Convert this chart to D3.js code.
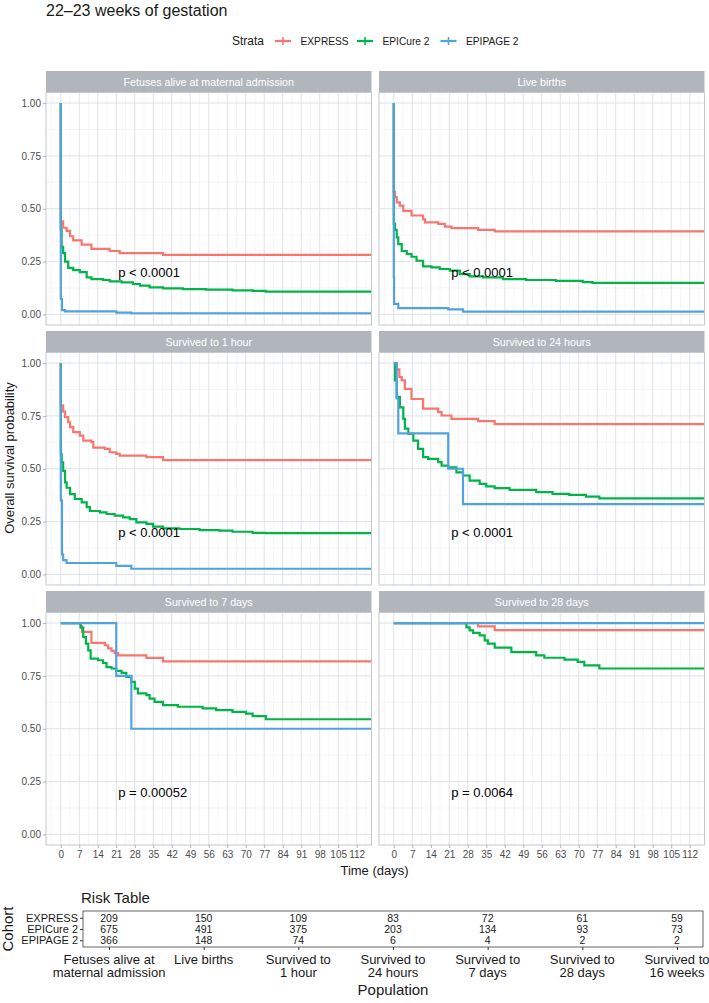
<!DOCTYPE html>
<html>
<head>
<meta charset="utf-8">
<script src="https://cdn.jsdelivr.net/npm/d3@7"></script>
<style>
  body { margin: 0; background: #fff; }
  text { font-family: "Liberation Sans", Arial, Helvetica, sans-serif; }
</style>
</head>
<body>
<div id="chart"></div>
<script>
// Strata (cohorts) and their colours.
var strata = ["EXPRESS", "EPICure 2", "EPIPAGE 2"];
var strataColors = ["#f8766d", "#00b44a", "#52a2de"];

// Facet titles and log-rank p values.
var panelTitles = ["Fetuses alive at maternal admission", "Live births", "Survived to 1 hour",
                   "Survived to 24 hours", "Survived to 7 days", "Survived to 28 days"];
var pValues = ["p < 0.0001", "p < 0.0001", "p < 0.0001", "p < 0.0001", "p = 0.00052", "p = 0.0064"];

// Kaplan-Meier steps: [day, survival].
var admitExpress = [[0,1],[0,0.44],[0.9,0.41],[2.2,0.395],[3.5,0.37],[4.7,0.35],[7.9,0.33],[11.6,0.31],[18.5,0.30],[22.3,0.29],[38.7,0.282]];
var admitEpicure = [[0,1],[0,0.40],[0.3,0.32],[0.9,0.29],[1.6,0.25],[2.8,0.22],[4.7,0.21],[7.2,0.20],[9.8,0.175],[11.6,0.167],[16,0.163],[18.5,0.156],[23,0.152],[27.3,0.144],[29.9,0.136],[33.6,0.128],[38.7,0.123],[46.2,0.12],[55,0.117],[65,0.114],[72.6,0.111],[77.6,0.108]];
var admitEpipage = [[0,1],[0,0.073],[0.45,0.02],[1.6,0.014],[21,0.0082],[26.7,0.0055]];

var liveExpress = [[0,1],[0,0.58],[0.45,0.555],[1.1,0.53],[2.3,0.515],[3.6,0.49],[6.7,0.468],[11.1,0.45],[11.8,0.436],[16.8,0.428],[19.3,0.415],[21.8,0.408],[31.9,0.40],[38.2,0.393]];
var liveEpicure = [[0,1],[0,0.43],[0.45,0.40],[1.1,0.365],[1.7,0.333],[3,0.30],[4.9,0.286],[6.7,0.273],[8.6,0.254],[11.1,0.227],[14.3,0.223],[17.4,0.215],[21.2,0.207],[25,0.191],[28.7,0.18],[33.8,0.175],[41.3,0.167],[50.1,0.163],[61.4,0.159],[71.5,0.153],[75.2,0.149]];
var liveEpipage = [[0,1],[0,0.175],[0.1,0.05],[1.7,0.03],[20.6,0.024],[26.2,0.0135]];

var hourExpress = [[0,1],[0,0.80],[0.9,0.77],[1.6,0.744],[2.8,0.72],[3.5,0.697],[4.7,0.673],[7.2,0.657],[8.5,0.633],[11.6,0.626],[12.3,0.60],[16.7,0.594],[18.5,0.578],[21,0.57],[22.3,0.562],[32.4,0.555],[38.7,0.541]];
var hourEpicure = [[0,1],[0,0.57],[0.33,0.53],[0.9,0.49],[1.6,0.436],[2.2,0.41],[3.5,0.38],[5.3,0.357],[7.9,0.341],[9.8,0.318],[11,0.30],[14.8,0.294],[17.3,0.286],[20.4,0.278],[23.6,0.27],[26.1,0.262],[28.6,0.246],[32.4,0.239],[34.9,0.226],[38.7,0.218],[44.9,0.215],[52.5,0.21],[60,0.207],[65,0.202],[72.6,0.197],[77.6,0.195]];
var hourEpipage = [[0,1],[0,0.35],[0.45,0.095],[0.9,0.068],[2.2,0.054],[21,0.0405],[26.7,0.027]];

var dayExpress = [[0,1],[1.1,0.97],[2.1,0.934],[3,0.918],[4.2,0.878],[6.7,0.83],[11.1,0.784],[16.8,0.768],[18.1,0.752],[21.8,0.736],[31.9,0.725],[38.2,0.711]];
var dayEpicure = [[0,1],[0.45,0.918],[1.1,0.84],[2.3,0.79],[3.6,0.736],[4.2,0.69],[5.5,0.665],[7.4,0.633],[9.2,0.594],[11.1,0.555],[13,0.547],[16.8,0.531],[18.1,0.515],[20.6,0.507],[23.7,0.483],[26.2,0.468],[28.7,0.444],[32.5,0.428],[35,0.417],[38.2,0.408],[43.8,0.40],[53.9,0.389],[60.1,0.381],[66.4,0.376],[72.7,0.368],[77.8,0.36]];
var dayEpipage = [[0,1],[1.1,0.833],[1.7,0.667],[20.6,0.5],[26.2,0.333]];

var weekExpress = [[0,1],[7.5,0.986],[8,0.958],[11.6,0.906],[16.7,0.895],[17.9,0.88],[19.2,0.868],[20.4,0.858],[21.7,0.847],[32.4,0.835],[38.7,0.819]];
var weekEpicure = [[0,1],[7.5,0.978],[8.5,0.934],[9.5,0.903],[10.4,0.871],[11.3,0.832],[14.1,0.824],[16,0.811],[17.3,0.792],[19.2,0.785],[21,0.774],[23,0.764],[24.8,0.745],[26.7,0.722],[28,0.69],[29.2,0.667],[32.4,0.659],[33.6,0.643],[35.5,0.627],[38.7,0.612],[44.3,0.604],[53.7,0.596],[58.8,0.588],[65,0.58],[70.1,0.572],[72.6,0.56],[77.6,0.545]];
var weekEpipage = [[0,1],[21,0.75],[26.7,0.5]];

var monthExpress = [[0,1],[31.9,0.984],[38.2,0.967]];
var monthEpicure = [[0,1],[27.5,0.98],[28.7,0.965],[30,0.954],[32.5,0.942],[34.4,0.918],[35.6,0.903],[38.2,0.884],[44.5,0.863],[53.9,0.847],[57,0.836],[64.6,0.827],[69.6,0.816],[72.1,0.80],[77.8,0.785]];
var monthEpipage = [[0,1]];

var panelCurves = [
  [admitExpress, admitEpicure, admitEpipage],
  [liveExpress, liveEpicure, liveEpipage],
  [hourExpress, hourEpicure, hourEpipage],
  [dayExpress, dayEpicure, dayEpipage],
  [weekExpress, weekEpicure, weekEpipage],
  [monthExpress, monthEpicure, monthEpipage]
];

// Axis ticks.
var xTicks = d3.range(0, 113, 7);
var yTicks = [0, 0.25, 0.5, 0.75, 1];

// Risk table.
var populations = ["Fetuses alive at\nmaternal admission", "Live births", "Survived to\n1 hour",
                   "Survived to\n24 hours", "Survived to\n7 days", "Survived to\n28 days", "Survived to\n16 weeks"];
var riskExpress = [209, 150, 109, 83, 72, 61, 59];
var riskEpicure = [675, 491, 375, 203, 134, 93, 73];
var riskEpipage = [366, 148, 74, 6, 4, 2, 2];
var riskRows = [riskExpress, riskEpicure, riskEpipage];

// Where the p value sits (days, survival).
var pvalX = 21.7, pvalY = 0.2;

// Layout.
var width = 709, height = 1003;
var colLeft = [46, 379];
var rowTop = [71, 331, 591];
var panelW = 325.5, stripH = 21.5, panelH = 232.5;
var tickGrey = "#4d4d4d";

var svg = d3.select("#chart").append("svg")
    .attr("width", width).attr("height", height);
svg.append("rect").attr("width", width).attr("height", height).attr("fill", "#fff");

// Title.
svg.append("text").attr("x", 46).attr("y", 16)
    .style("font-size", "16px").attr("fill", "#1a1a1a")
    .text("22\u201323 weeks of gestation");

// Legend.
var legend = svg.append("g").attr("id", "legend");
legend.append("text").attr("x", 232).attr("y", 45).style("font-size", "12px").attr("fill", "#1a1a1a").text("Strata");
var keyX = [275, 357, 440.5];
strata.forEach(function(s, i) {
  var k = legend.append("g").attr("transform", "translate(" + keyX[i] + ",41)");
  k.append("line").attr("x1", 0).attr("x2", 16).attr("stroke", strataColors[i]).attr("stroke-width", 2.2);
  k.append("line").attr("x1", 8).attr("x2", 8).attr("y1", -4).attr("y2", 4).attr("stroke", strataColors[i]).attr("stroke-width", 1.6);
  k.append("text").attr("x", 25.5).attr("y", 3.6).style("font-size", "10.2px").attr("fill", "#1a1a1a").text(s);
});

// Scales shared by all facets.
var x = d3.scaleLinear().domain([-5.6, 117.6]).range([0, panelW]);
var y = d3.scaleLinear().domain([-0.05, 1.05]).range([panelH, 0]);
var stepLine = d3.line()
    .x(function(d) { return x(d[0]); })
    .y(function(d) { return y(d[1]); })
    .curve(d3.curveStepAfter);

var defs = svg.append("defs");
defs.append("clipPath").attr("id", "panel-clip")
  .append("rect").attr("width", panelW).attr("height", panelH);

var xMinor = d3.range(-3.5, 117, 7);
var yMinor = [0.125, 0.375, 0.625, 0.875];

panelTitles.forEach(function(title, i) {
  var col = i % 2, row = Math.floor(i / 2);
  var g = svg.append("g").attr("transform", "translate(" + colLeft[col] + "," + rowTop[row] + ")");

  // strip
  g.append("rect").attr("width", panelW).attr("height", stripH).attr("fill", "#b1b6bd");
  g.append("text").attr("x", panelW / 2).attr("y", stripH / 2 + 3.8)
      .attr("text-anchor", "middle").style("font-size", "10.7px").attr("fill", "#fff").text(title);

  var p = g.append("g").attr("transform", "translate(0," + stripH + ")");
  p.append("rect").attr("width", panelW).attr("height", panelH).attr("fill", "#fff");

  // grid lines
  p.selectAll(".xminor").data(xMinor).enter().append("line")
      .attr("x1", d => x(d)).attr("x2", d => x(d)).attr("y1", 0).attr("y2", panelH)
      .attr("stroke", "#eef0f3").attr("stroke-width", 0.6);
  p.selectAll(".yminor").data(yMinor).enter().append("line")
      .attr("y1", d => y(d)).attr("y2", d => y(d)).attr("x1", 0).attr("x2", panelW)
      .attr("stroke", "#eef0f3").attr("stroke-width", 0.6);
  p.selectAll(".xmajor").data(xTicks).enter().append("line")
      .attr("x1", d => x(d)).attr("x2", d => x(d)).attr("y1", 0).attr("y2", panelH)
      .attr("stroke", "#dfe2e8").attr("stroke-width", 1);
  p.selectAll(".ymajor").data(yTicks).enter().append("line")
      .attr("y1", d => y(d)).attr("y2", d => y(d)).attr("x1", 0).attr("x2", panelW)
      .attr("stroke", "#dfe2e8").attr("stroke-width", 1);

  // survival curves, each carried on to the right edge
  var curves = p.append("g").attr("clip-path", "url(#panel-clip)");
  panelCurves[i].forEach(function(c, s) {
    var pts = c.concat([[x.domain()[1] + 1, c[c.length - 1][1]]]);
    curves.append("path").datum(pts)
        .attr("d", stepLine)
        .attr("fill", "none")
        .attr("stroke", strataColors[s])
        .attr("stroke-width", 2.2);
  });

  p.append("text").attr("x", x(pvalX)).attr("y", y(pvalY) + 4.5)
      .style("font-size", "13px").attr("fill", "#000").text(pValues[i]);

  p.append("rect").attr("width", panelW).attr("height", panelH)
      .attr("fill", "none").attr("stroke", "#c4c7cc").attr("stroke-width", 1);

  // axes
  if (col === 0) {
    var ya = p.append("g").call(d3.axisLeft(y).tickValues(yTicks).tickFormat(d3.format(".2f")).tickSize(3).tickPadding(2));
    ya.select(".domain").remove();
    ya.selectAll("line").attr("stroke", "#b3b3b3");
    ya.selectAll("text").style("font-size", "10px").attr("fill", tickGrey).style("font-family", "Liberation Sans, Arial, sans-serif");
  }
  if (row === 2) {
    var xa = p.append("g").attr("transform", "translate(0," + panelH + ")")
        .call(d3.axisBottom(x).tickValues(xTicks).tickSize(3).tickPadding(3));
    xa.select(".domain").remove();
    xa.selectAll("line").attr("stroke", "#b3b3b3");
    xa.selectAll("text").style("font-size", "10px").attr("fill", tickGrey).style("font-family", "Liberation Sans, Arial, sans-serif");
  }
});

// Axis titles of the curve grid.
svg.append("text").attr("x", 374.5).attr("y", 874.5).attr("text-anchor", "middle")
    .style("font-size", "13px").attr("fill", "#1a1a1a").text("Time (days)");
svg.append("text").attr("transform", "translate(14,458) rotate(-90)").attr("text-anchor", "middle")
    .style("font-size", "13px").attr("fill", "#1a1a1a").text("Overall survival probability");

// Risk table.
var tbl = svg.append("g").attr("id", "risk-table");
tbl.append("text").attr("x", 81).attr("y", 903).style("font-size", "15px").attr("fill", "#1a1a1a").text("Risk Table");

var colScale = d3.scalePoint().domain(populations).range([83, 703]).padding(0.275);
var rowScale = d3.scalePoint().domain(strata).range([911, 947]).padding(0.6);

tbl.append("rect").attr("x", 83).attr("y", 911).attr("width", 620).attr("height", 36)
    .attr("fill", "#fff").attr("stroke", "#555").attr("stroke-width", 0.9);

riskRows.forEach(function(vals, r) {
  tbl.selectAll(".cell" + r).data(vals).enter().append("text")
      .attr("x", (d, c) => colScale(populations[c]))
      .attr("y", rowScale(strata[r]) + 3.8)
      .attr("text-anchor", "middle").style("font-size", "10.5px").attr("fill", "#1a1a1a")
      .text(d => d);
});

var ra = tbl.append("g").attr("transform", "translate(83,0)")
    .call(d3.axisLeft(rowScale).tickSize(3).tickPadding(2));
ra.select(".domain").remove();
ra.selectAll("line").attr("stroke", "#333");
ra.selectAll("text").style("font-size", "11px").attr("fill", "#1a1a1a").style("font-family", "Liberation Sans, Arial, sans-serif");

var ca = tbl.append("g").attr("transform", "translate(0,947)")
    .call(d3.axisBottom(colScale).tickSize(3).tickFormat(""));
ca.select(".domain").remove();
ca.selectAll("line").attr("stroke", "#333");

populations.forEach(function(lab) {
  var t = tbl.append("text").attr("text-anchor", "middle").style("font-size", "13px").attr("fill", "#1a1a1a");
  lab.split("\n").forEach(function(line, k) {
    t.append("tspan").attr("x", colScale(lab)).attr("y", 963.5 + k * 13.7).text(line);
  });
});

tbl.append("text").attr("x", 393).attr("y", 995).attr("text-anchor", "middle")
    .style("font-size", "15px").attr("fill", "#1a1a1a").text("Population");
tbl.append("text").attr("transform", "translate(13,929) rotate(-90)").attr("text-anchor", "middle")
    .style("font-size", "15px").attr("fill", "#1a1a1a").text("Cohort");
</script>
</body>
</html>
